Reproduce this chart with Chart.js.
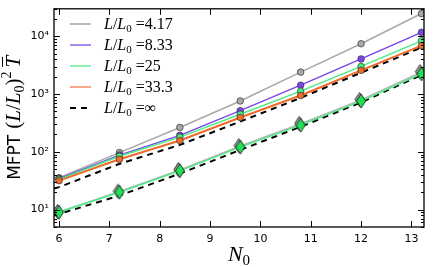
<!DOCTYPE html>
<html>
<head>
<meta charset="utf-8">
<script src="https://cdn.jsdelivr.net/npm/chart.js@4"></script>
<style>
    html, body { margin: 0; padding: 0; background: #fff; }
    #grafico { display: block; }
</style>
</head>
<body>
<canvas id="grafico" width="436" height="267"></canvas>
<script>
// Dados (eixo x = N0, eixo y = MFPT (L/L0)^2 T)
const N0 = [6, 7.2, 8.4, 9.6, 10.8, 12, 13.2];
const N0Teoria = [5.9, 6, 7.2, 8.4, 9.6, 10.8, 12, 13.2];

const mfpt417 = [35.6, 97, 265, 760, 2400, 7450, 24800];
const mfpt833 = [34.5, 88, 193, 516, 1426, 4066, 11750];
const mfpt25 = [33.5, 84, 180, 448, 1123, 3013, 8370];
const mfpt333 = [31.7, 74.5, 157, 393, 946, 2576, 6890];
const teoriaSuperior = [23.1, 24.5, 62, 132, 335, 860, 2350, 6400];

// Conjunto inferior (losangos)
const inferior417 = [9.1, 20.5, 48.5, 126, 305, 790, 2400];
const inferior25 = [9.0, 20, 47, 121, 290, 758, 2250];
const teoriaInferior = [7.9, 8.4, 17.5, 42, 108, 272, 720, 2150];

const legendaTextos = ['4.17', '8.33', '25', '33.3', '\u221E'];
const ticksX = [6, 7, 8, 9, 10, 11, 12, 13];
const ticksYMaiores = [10, 100, 1000, 10000];
const sobrescritos = { 1: '\u00B9', 2: '\u00B2', 3: '\u00B3', 4: '\u2074' };

const cores = {
    cinza: '#a9a9a9',
    roxo: '#7a45ee',
    verde: '#48ee80',
    laranja: '#f06a28'
};

// Losango fino como estilo de ponto
function criarLosango(cor, dx, dy) {
    const c = document.createElement('canvas');
    c.width = 14;
    c.height = 18;
    const g = c.getContext('2d');
    const cx = 7 + dx, cy = 9 + dy;
    g.beginPath();
    g.moveTo(cx, cy - 7);
    g.lineTo(cx + 4.5, cy);
    g.lineTo(cx, cy + 7);
    g.lineTo(cx - 4.5, cy);
    g.closePath();
    g.fillStyle = cor;
    g.fill();
    g.lineWidth = 0.9;
    g.strokeStyle = '#222';
    g.stroke();
    return c;
}

function pontos(xs, ys) {
    return xs.map((x, i) => ({ x: x, y: ys[i] }));
}

function serieCirculos(dados, cor, ordem, espessura) {
    return {
        data: pontos(N0, dados),
        borderColor: cor,
        backgroundColor: cor,
        borderWidth: espessura,
        pointRadius: 3.3,
        pointBackgroundColor: cor,
        pointBorderColor: '#333',
        pointBorderWidth: 0.7,
        order: ordem
    };
}

// Escreve texto com partes de fontes diferentes
function textoRico(ctx, partes, x, y) {
    partes.forEach(p => {
        ctx.font = p.font;
        ctx.fillText(p.t, x, y + (p.dy || 0));
        x += ctx.measureText(p.t).width + (p.esp || 0);
    });
    return x;
}

function larguraRica(ctx, partes) {
    let w = 0;
    partes.forEach(p => {
        ctx.font = p.font;
        w += ctx.measureText(p.t).width + (p.esp || 0);
    });
    return w;
}

const serif = '"Liberation Serif", serif';

// Plugin: moldura, ticks internos, legenda e títulos dos eixos
const estiloMatplotlib = {
    id: 'estiloMatplotlib',
    afterDraw(chart) {
        const ctx = chart.ctx;
        const a = chart.chartArea;
        const sx = chart.scales.x;
        const sy = chart.scales.y;
        ctx.save();

        // ticks internos
        ctx.strokeStyle = '#000';
        ctx.lineWidth = 1;
        ctx.beginPath();
        ticksX.forEach(v => {
            const px = Math.round(sx.getPixelForValue(v)) + 0.5;
            ctx.moveTo(px, a.bottom); ctx.lineTo(px, a.bottom - 6);
            ctx.moveTo(px, a.top); ctx.lineTo(px, a.top + 6);
        });
        for (let d = 0; d <= 4; d++) {
            for (let m = 1; m <= 9; m++) {
                const v = m * Math.pow(10, d);
                if (v < 5 || v > 30000) continue;
                const py = Math.round(sy.getPixelForValue(v)) + 0.5;
                const len = m === 1 ? 6 : 3;
                ctx.moveTo(a.left, py); ctx.lineTo(a.left + len, py);
                ctx.moveTo(a.right, py); ctx.lineTo(a.right - len, py);
            }
        }
        ctx.stroke();

        // moldura
        ctx.lineWidth = 1.3;
        ctx.strokeRect(a.left, a.top, a.right - a.left, a.bottom - a.top);

        // legenda
        const coresLegenda = ['#b4b4b4', '#a07ef2', '#7ef2a6', '#f4a07c', '#000'];
        const linhasY = [24, 45, 66, 87, 108];
        ctx.fillStyle = '#000';
        ctx.textBaseline = 'alphabetic';
        ctx.textAlign = 'left';
        linhasY.forEach((y, i) => {
            ctx.beginPath();
            ctx.strokeStyle = coresLegenda[i];
            ctx.lineWidth = i === 4 ? 2 : 1.8;
            ctx.setLineDash(i === 4 ? [6, 5] : []);
            ctx.moveTo(70, y);
            ctx.lineTo(91, y);
            ctx.stroke();
            ctx.setLineDash([]);
            textoRico(ctx, [
                { t: 'L', font: 'italic 16px ' + serif },
                { t: '/', font: '16px ' + serif },
                { t: 'L', font: 'italic 16px ' + serif },
                { t: '0', font: '11px ' + serif, dy: 3, esp: 4 },
                { t: '=' + legendaTextos[i], font: '16px ' + serif }
            ], 104, y + 5);
        });

        // título do eixo x
        const partesX = [
            { t: 'N', font: 'italic 22px ' + serif },
            { t: '0', font: '15px ' + serif, dy: 4 }
        ];
        textoRico(ctx, partesX, (a.left + a.right) / 2 - larguraRica(ctx, partesX) / 2, 261);

        // título do eixo y
        const partesY = [
            { t: 'MFPT', font: '17px "DejaVu Sans", sans-serif', esp: 6 },
            { t: '(', font: '21px ' + serif },
            { t: 'L', font: 'italic 21px ' + serif },
            { t: '/', font: '21px ' + serif },
            { t: 'L', font: 'italic 21px ' + serif },
            { t: '0', font: '14px ' + serif, dy: 4 },
            { t: ')', font: '21px ' + serif },
            { t: '2', font: '14px ' + serif, dy: -9, esp: 4 },
            { t: 'T', font: 'italic 21px ' + serif }
        ];
        ctx.translate(20, (a.top + a.bottom) / 2);
        ctx.rotate(-Math.PI / 2);
        const w = larguraRica(ctx, partesY);
        const fim = textoRico(ctx, partesY, -w / 2, 0);
        // barra sobre o T
        ctx.beginPath();
        ctx.strokeStyle = '#000';
        ctx.lineWidth = 1;
        ctx.moveTo(fim - 11, -17.5);
        ctx.lineTo(fim - 1, -17.5);
        ctx.stroke();

        ctx.restore();
    }
};

const ctxGrafico = document.getElementById('grafico').getContext('2d');
const grafico = new Chart(ctxGrafico, {
    type: 'line',
    data: {
        datasets: [
            serieCirculos(mfpt417, cores.cinza, 4, 1.6),
            serieCirculos(mfpt833, cores.roxo, 3, 1.4),
            serieCirculos(mfpt25, cores.verde, 2, 1.4),
            serieCirculos(mfpt333, cores.laranja, 1, 2),
            {
                data: pontos(N0Teoria, teoriaSuperior),
                borderColor: '#000',
                borderWidth: 2,
                borderDash: [6, 5],
                pointRadius: 0,
                order: 6
            },
            {
                data: pontos(N0, inferior417),
                borderColor: '#b8b8b8',
                borderWidth: 1.8,
                pointStyle: criarLosango('#a0a0a0', -1.5, -0.5),
                pointRadius: 7,
                order: 8
            },
            {
                data: pontos(N0, inferior25),
                borderColor: cores.verde,
                borderWidth: 1.4,
                pointStyle: criarLosango('#22e055', 0, 0),
                pointRadius: 7,
                order: 5
            },
            {
                data: pontos(N0Teoria, teoriaInferior),
                borderColor: '#000',
                borderWidth: 2,
                borderDash: [6, 5],
                pointRadius: 0,
                order: 7
            }
        ]
    },
    options: {
        responsive: false,
        animation: false,
        devicePixelRatio: 1,
        layout: { padding: { top: 6, right: 12, left: 0, bottom: 0 } },
        plugins: {
            legend: { display: false },
            tooltip: { enabled: false }
        },
        scales: {
            x: {
                type: 'linear',
                min: 5.9,
                max: 13.25,
                afterBuildTicks(scale) {
                    scale.ticks = ticksX.map(v => ({ value: v }));
                },
                afterFit(scale) {
                    scale.height = 40;
                    scale.paddingLeft = 0;
                    scale.paddingRight = 0;
                },
                grid: { display: false, drawTicks: false },
                border: { display: false },
                ticks: {
                    color: '#000',
                    padding: 6,
                    maxRotation: 0,
                    font: { family: '"DejaVu Sans", sans-serif', size: 11 }
                }
            },
            y: {
                type: 'logarithmic',
                min: 5,
                max: 30000,
                afterBuildTicks(scale) {
                    scale.ticks = ticksYMaiores.map(v => ({ value: v }));
                },
                afterFit(scale) {
                    scale.width = 54;
                    scale.paddingTop = 0;
                    scale.paddingBottom = 0;
                },
                grid: { display: false, drawTicks: false },
                border: { display: false },
                ticks: {
                    color: '#000',
                    padding: 5,
                    font: { family: '"DejaVu Sans", sans-serif', size: 11 },
                    callback(valor) {
                        const e = Math.round(Math.log10(valor));
                        return '10' + sobrescritos[e];
                    }
                }
            }
        }
    },
    plugins: [estiloMatplotlib]
});
</script>
</body>
</html>
